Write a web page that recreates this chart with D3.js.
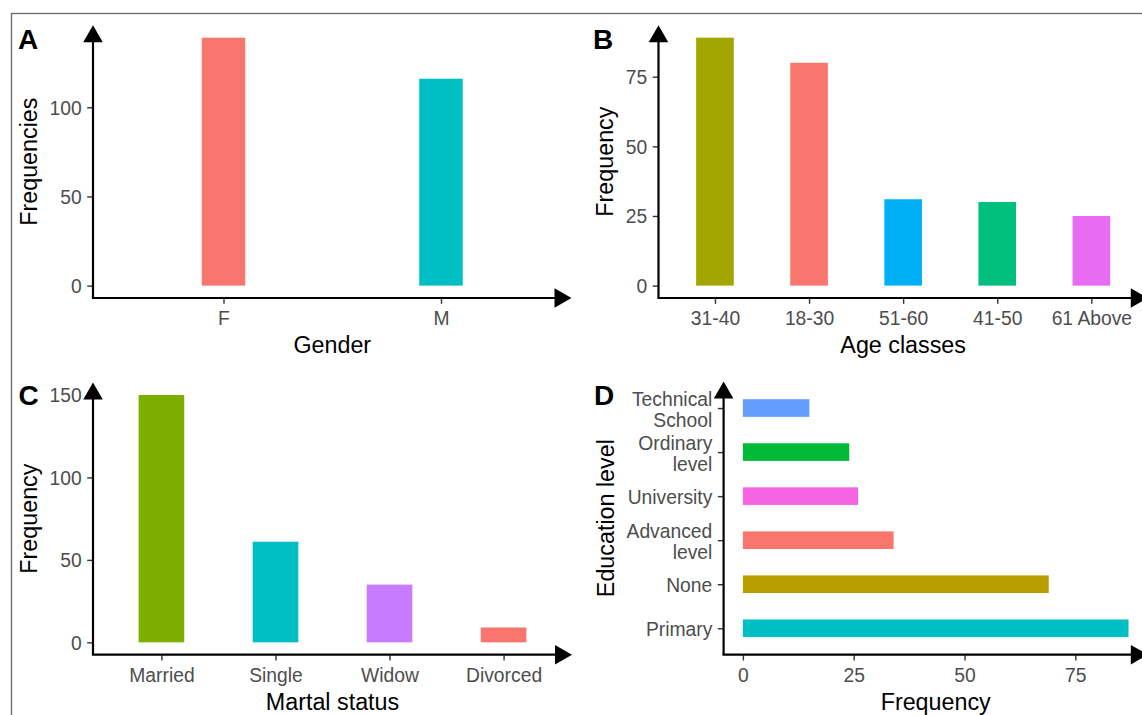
<!DOCTYPE html>
<html><head><meta charset="utf-8">
<script src="https://cdn.jsdelivr.net/npm/d3@7"></script>
<style>
html,body{margin:0;padding:0;background:#fff;overflow:hidden}
svg text{font-family:"Liberation Sans",Arial,Helvetica,sans-serif}
</style>
</head><body>
<svg id="chart" width="1142" height="715"></svg>
<script>
// ---------------- data ----------------
const genderCategories = ["F", "M"];
const genderValues = [139, 116];
const ageCategories = ["31-40", "18-30", "51-60", "41-50", "61 Above"];
const ageValues = [89, 80, 31, 30, 25];
const maritalCategories = ["Married", "Single", "Widow", "Divorced"];
const maritalValues = [150, 61, 35, 9];
const educationCategories = ["Primary", "None", "Advanced\nlevel", "University", "Ordinary\nlevel", "Technical\nSchool"];
const educationValues = [87, 69, 34, 26, 24, 15];
const genderTicks = [0, 50, 100];
const ageTicks = [0, 25, 50, 75];
const maritalTicks = [0, 50, 100, 150];
const educationTicks = [0, 25, 50, 75];

// ---------------- palettes ----------------
const genderColors = ["#F8766D", "#00BFC4"];
const ageColors = ["#A3A500", "#F8766D", "#00B0F6", "#00BF7D", "#E76BF3"];
const maritalColors = ["#7CAE00", "#00BFC4", "#C77CFF", "#F8766D"];
const educationColors = ["#00BFC4", "#B79F00", "#F8766D", "#F564E3", "#00BA38", "#619CFF"];

const svg = d3.select("#chart");
const TICK_FS = 19.3, TITLE_FS = 23.3, TAG_FS = 28;
const TICK_LEN = 5.8, TICK_PAD = 5.5;
const ARROW_L = 17, ARROW_HW = 9.8;

// outer frame
svg.append("rect").attr("x", 11.5).attr("y", 13.5).attr("width", 2000).attr("height", 2000)
  .attr("fill", "none").attr("stroke", "#6e6e6e").attr("stroke-width", 1.4);

function styleAxis(g) {
  g.select(".domain").remove();
  g.selectAll(".tick line").attr("stroke", "#333333").attr("stroke-width", 1.4);
  g.selectAll(".tick text").attr("fill", "#4D4D4D").style("font-size", TICK_FS + "px")
    .style("font-family", '"Liberation Sans",Arial,sans-serif');
}

function axisLines(g, box, axisX, axisY) {
  g.append("line").attr("x1", axisX).attr("x2", axisX).attr("y1", axisY).attr("y2", box.t + 6)
    .attr("stroke", "#000").attr("stroke-width", 2.2);
  g.append("path").attr("d", `M${axisX},${box.t} L${axisX - ARROW_HW},${box.t + ARROW_L} L${axisX + ARROW_HW},${box.t + ARROW_L} Z`)
    .attr("fill", "#000");
  g.append("line").attr("x1", axisX - 1.1).attr("x2", box.r - 6).attr("y1", axisY).attr("y2", axisY)
    .attr("stroke", "#000").attr("stroke-width", 2.2);
  g.append("path").attr("d", `M${box.r},${axisY} L${box.r - ARROW_L},${axisY - ARROW_HW} L${box.r - ARROW_L},${axisY + ARROW_HW} Z`)
    .attr("fill", "#000");
}

function titles(g, box, axisX, axisY, xTitle, yTitle, labelW, tag, tagX, tagY) {
  g.append("text").attr("x", (box.l + box.r) / 2).attr("y", axisY + 55)
    .attr("text-anchor", "middle").style("font-size", TITLE_FS + "px").attr("fill", "#000").text(xTitle);
  const bx = axisX - TICK_LEN - TICK_PAD - labelW - 12.3;
  g.append("text").attr("transform", `translate(${bx},${(box.t + box.b) / 2}) rotate(-90)`)
    .attr("text-anchor", "middle").style("font-size", TITLE_FS + "px").attr("fill", "#000").text(yTitle);
  g.append("text").attr("x", tagX).attr("y", tagY).style("font-size", TAG_FS + "px")
    .style("font-weight", "bold").attr("fill", "#000").text(tag);
}

function maxLabelWidth(axisG) {
  let w = 0;
  axisG.selectAll(".tick text").each(function () { w = Math.max(w, this.getBBox().width); });
  return w;
}

function verticalPanel(cats, vals, colors, ticks, box, barFrac, xTitle, yTitle, tag, tagX, tagY) {
  const g = svg.append("g");
  const x = d3.scalePoint().domain(cats).range([box.l, box.r]).padding(0.6);
  const mx = d3.max(vals);
  const y = d3.scaleLinear().domain([-0.05 * mx, 1.05 * mx]).range([box.b, box.t]);
  const bw = x.step() * barFrac;
  g.selectAll("rect.bar").data(cats).enter().append("rect").attr("class", "bar")
    .attr("x", d => x(d) - bw / 2).attr("width", bw)
    .attr("y", (d, i) => y(vals[i])).attr("height", (d, i) => y(0) - y(vals[i]))
    .attr("fill", (d, i) => colors[i]);
  const axisX = box.l, axisY = box.b;
  const ya = g.append("g").attr("transform", `translate(${axisX},0)`)
    .call(d3.axisLeft(y).tickValues(ticks).tickSize(TICK_LEN).tickPadding(TICK_PAD).tickFormat(d3.format("d")));
  styleAxis(ya);
  ya.selectAll(".tick text").attr("dy", "0.35em");
  const xa = g.append("g").attr("transform", `translate(0,${axisY})`)
    .call(d3.axisBottom(x).tickSize(TICK_LEN).tickPadding(7.6));
  styleAxis(xa);
  axisLines(g, box, axisX, axisY);
  titles(g, box, axisX, axisY, xTitle, yTitle, maxLabelWidth(ya), tag, tagX, tagY);
}

function horizontalPanel(cats, vals, colors, ticks, box, barFrac, xTitle, yTitle, tag, tagX, tagY) {
  const g = svg.append("g");
  const y = d3.scalePoint().domain(cats).range([box.b, box.t]).padding(0.6);
  const mx = d3.max(vals);
  const x = d3.scaleLinear().domain([-0.05 * mx, 1.05 * mx]).range([box.l, box.r]);
  const bh = y.step() * barFrac;
  g.selectAll("rect.bar").data(cats).enter().append("rect").attr("class", "bar")
    .attr("y", d => y(d) - bh / 2).attr("height", bh)
    .attr("x", x(0)).attr("width", (d, i) => x(vals[i]) - x(0))
    .attr("fill", (d, i) => colors[i]);
  const axisX = box.l, axisY = box.b;
  const ya = g.append("g").attr("transform", `translate(${axisX},0)`)
    .call(d3.axisLeft(y).tickSize(TICK_LEN).tickPadding(TICK_PAD));
  styleAxis(ya);
  ya.selectAll(".tick text").each(function (d) {
    const t = d3.select(this);
    const lines = d.split("\n");
    t.text(null).attr("dy", null);
    if (lines.length === 1) {
      t.append("tspan").attr("x", -(TICK_LEN + TICK_PAD)).attr("y", 7).text(lines[0]);
    } else {
      t.append("tspan").attr("x", -(TICK_LEN + TICK_PAD)).attr("y", -2.5).text(lines[0]);
      t.append("tspan").attr("x", -(TICK_LEN + TICK_PAD)).attr("y", 18.5).text(lines[1]);
    }
  });
  const xa = g.append("g").attr("transform", `translate(0,${axisY})`)
    .call(d3.axisBottom(x).tickValues(ticks).tickSize(TICK_LEN).tickPadding(7.6).tickFormat(d3.format("d")));
  styleAxis(xa);
  axisLines(g, box, axisX, axisY);
  titles(g, box, axisX, axisY, xTitle, yTitle, maxLabelWidth(ya), tag, tagX, tagY);
}

verticalPanel(genderCategories, genderValues, genderColors, genderTicks,
  {l: 93, r: 571.5, t: 25.3, b: 298}, 0.2, "Gender", "Frequencies", "A", 18, 49.3);
verticalPanel(ageCategories, ageValues, ageColors, ageTicks,
  {l: 658.5, r: 1147.8, t: 25.3, b: 298}, 0.4, "Age classes", "Frequency", "B", 593, 49.3);
verticalPanel(maritalCategories, maritalValues, maritalColors, maritalTicks,
  {l: 93, r: 572, t: 382.6, b: 654.7}, 0.4, "Martal status", "Frequency", "C", 18.5, 405);
horizontalPanel(educationCategories, educationValues, educationColors, educationTicks,
  {l: 723.6, r: 1147.8, t: 381.6, b: 654.7}, 0.4, "Frequency", "Education level", "D", 594, 405);
</script>
</body></html>
